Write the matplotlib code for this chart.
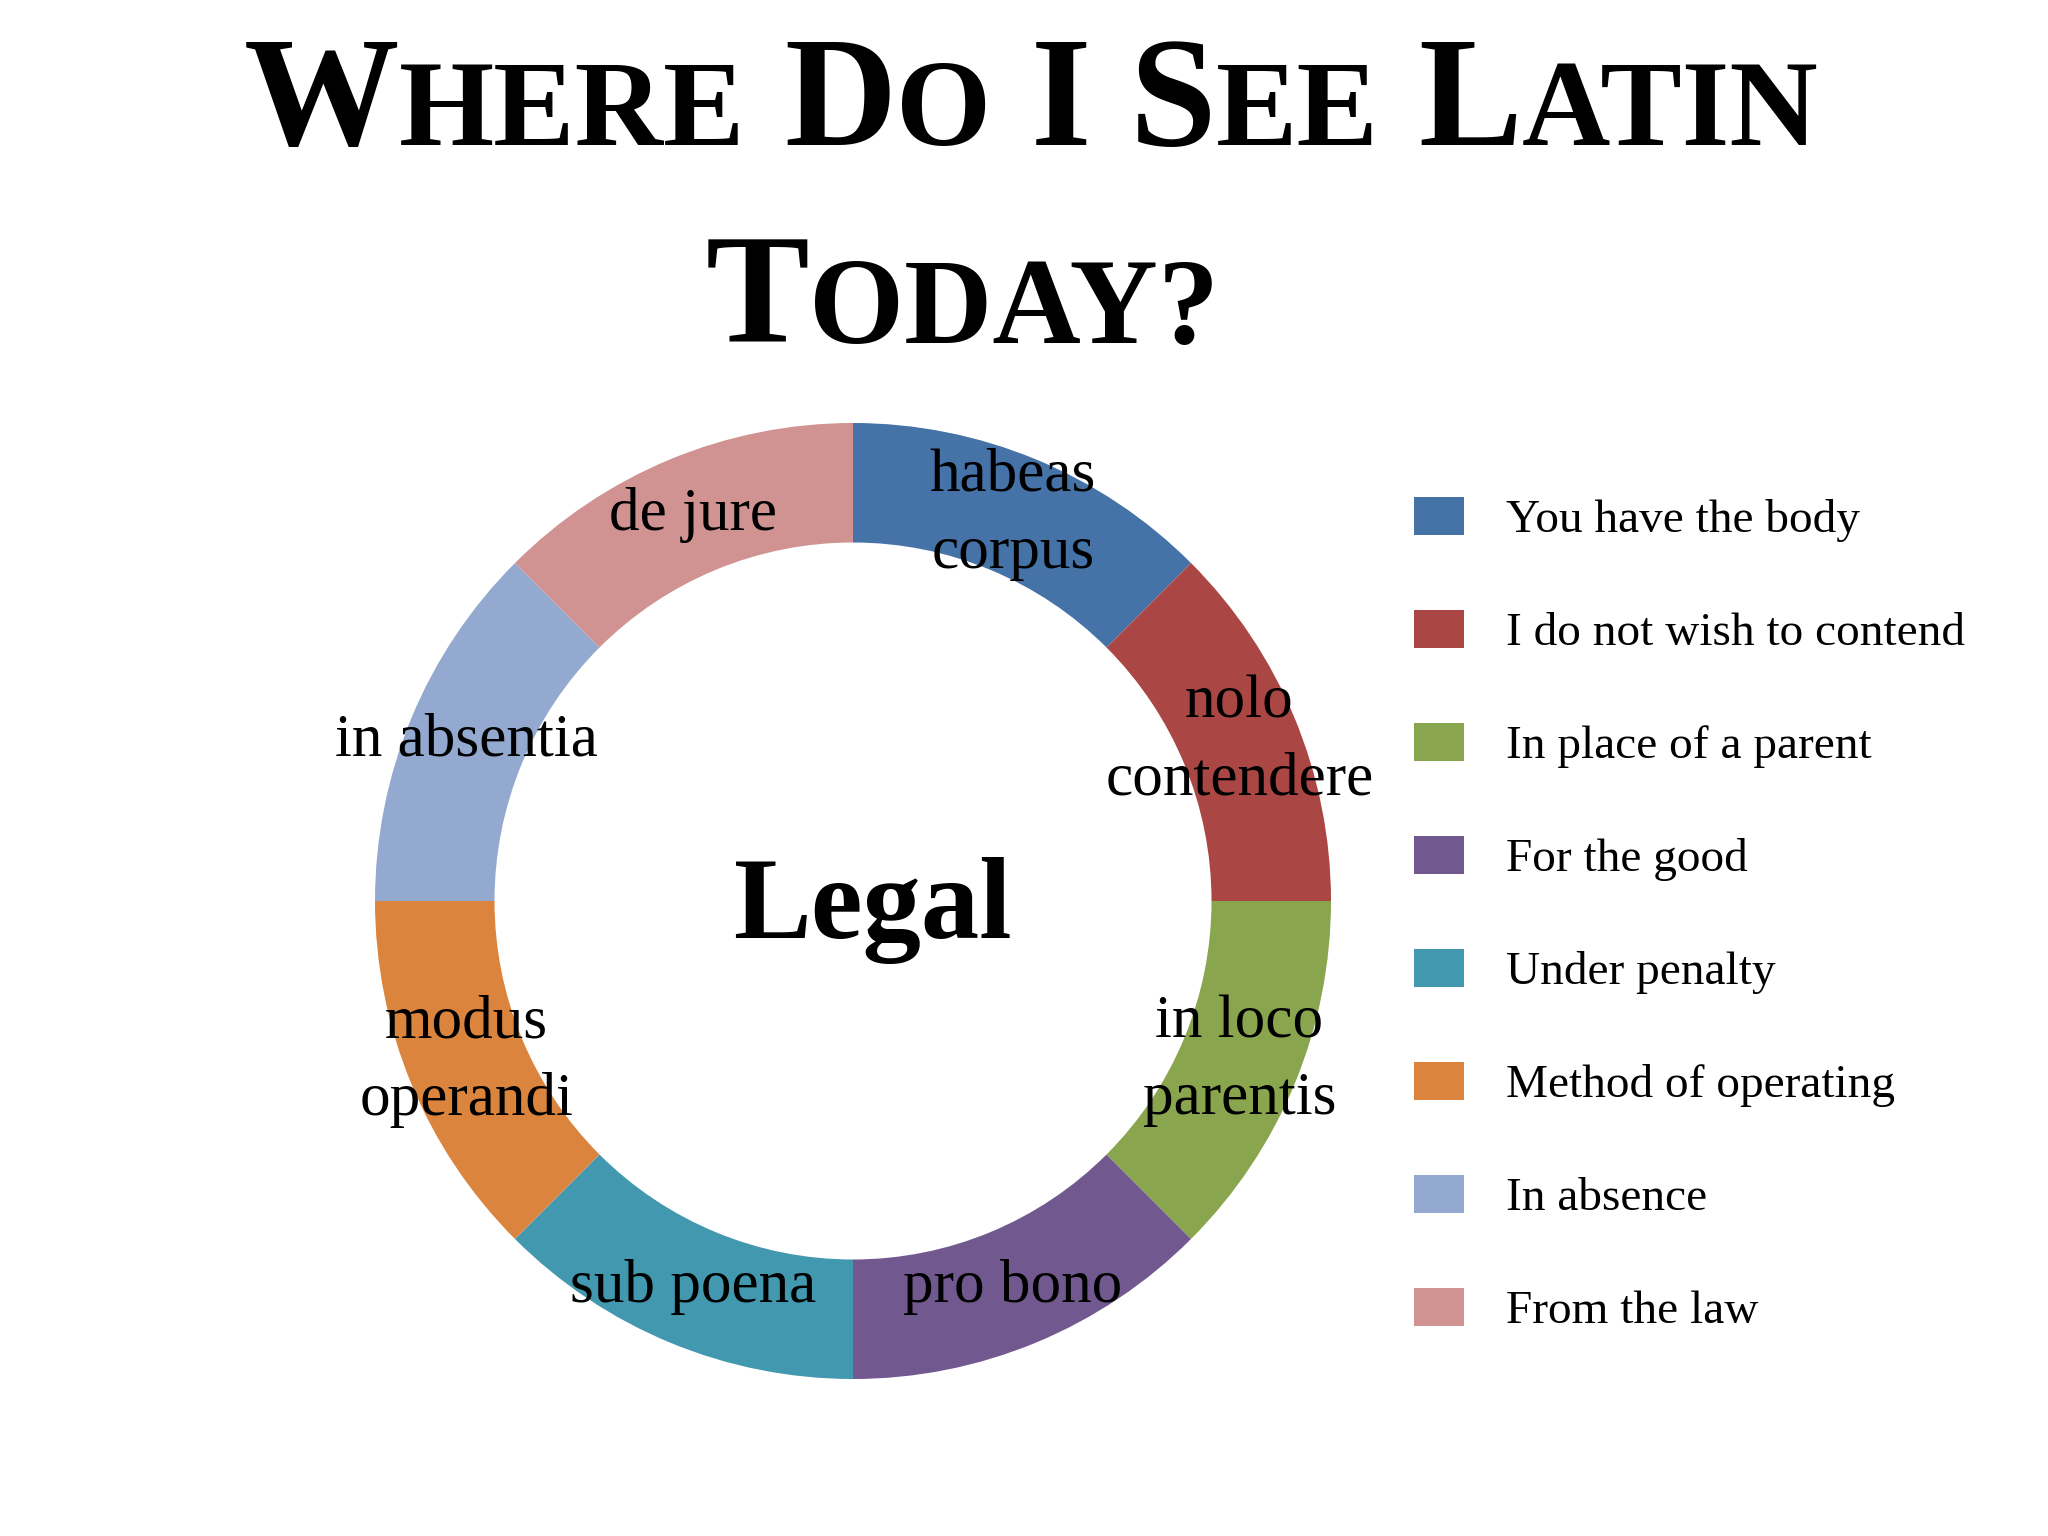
import matplotlib
matplotlib.use("Agg")
import matplotlib.pyplot as plt
from matplotlib.transforms import IdentityTransform

# data
latin_terms = ["habeas\ncorpus", "nolo\ncontendere", "in loco\nparentis", "pro bono",
               "sub poena", "modus\noperandi", "in absentia", "de jure"]
meanings = ["You have the body", "I do not wish to contend", "In place of a parent",
            "For the good", "Under penalty", "Method of operating", "In absence",
            "From the law"]
shares = [1, 1, 1, 1, 1, 1, 1, 1]
colors = ["#4572A7", "#AA4643", "#89A54E", "#71588F", "#4198AF", "#DB843D",
          "#93A9CF", "#D19392"]
title_lines = [["Where", "Do", "I", "See", "Latin"], ["Today?"]]
center_label = "Legal"

SERIF = "Liberation Serif"
W, H = 2048, 1536

fig = plt.figure(figsize=(W / 100, H / 100), dpi=100)
fig.patch.set_facecolor("white")


def small_caps_line(words, y_px, big, small, center_x):
    # build "small caps" out of pieces of two sizes
    renderer = fig.canvas.get_renderer()
    pieces = []
    for i, w in enumerate(words):
        t1 = fig.text(0, 0, w[0].upper(), fontsize=big, family=SERIF, weight="bold",
                      transform=IdentityTransform(), va="baseline", ha="left")
        pieces.append((t1, 0))
        if len(w) > 1:
            t2 = fig.text(0, 0, w[1:].upper(), fontsize=small, family=SERIF,
                          weight="bold", transform=IdentityTransform(),
                          va="baseline", ha="left")
            pieces.append((t2, 0))
        if i < len(words) - 1:
            pieces.append((None, big * 100 / 72 * 0.25))
    widths = []
    for t, gap in pieces:
        widths.append(gap if t is None else t.get_window_extent(renderer).width)
    x = center_x - sum(widths) / 2
    for (t, gap), wd in zip(pieces, widths):
        if t is not None:
            t.set_position((x, H - y_px))
        x += wd


small_caps_line(title_lines[0], 145, 112, 88, 1031)
small_caps_line(title_lines[1], 343, 112, 88, 962)

# donut
R = 478
cx, cy = 853, 901
ax = fig.add_axes([(cx - R) / W, (H - cy - R) / H, 2 * R / W, 2 * R / H])
wedges, texts = ax.pie(shares, colors=colors, startangle=90, counterclock=False,
                       radius=1, labels=latin_terms, labeldistance=0.875,
                       wedgeprops=dict(width=0.25, linewidth=0),
                       textprops=dict(fontsize=44, family=SERIF, ha="center",
                                      va="center", linespacing=1.5))
ax.set_xlim(-1, 1)
ax.set_ylim(-1, 1)
ax.axis("off")
ax.text(0.04, -0.02, center_label, fontsize=84, family=SERIF, weight="bold",
        ha="center", va="center")

fig.legend(wedges, meanings, loc="upper left",
           bbox_to_anchor=(1414 / W, 1 - 497 / H), frameon=False,
           prop=dict(family=SERIF, size=34), handlelength=1.06, handleheight=0.87,
           handletextpad=0.89, labelspacing=1.43, borderpad=0, borderaxespad=0)

fig.savefig("out.png", dpi=100, facecolor="white")
